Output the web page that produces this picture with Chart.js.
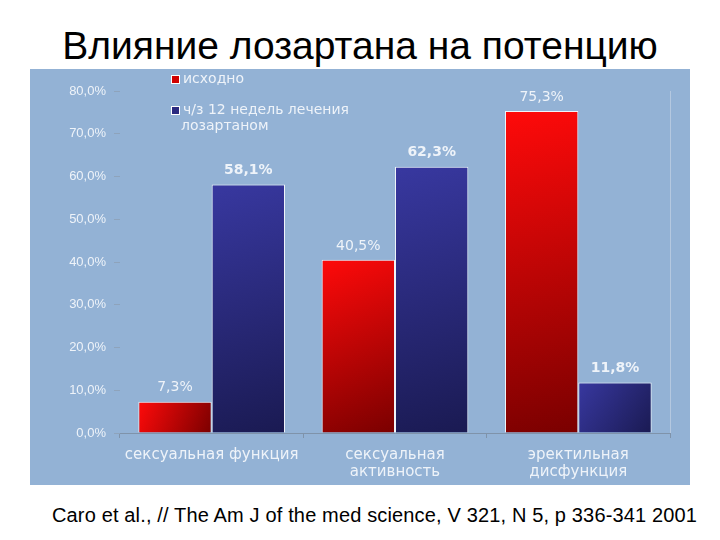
<!DOCTYPE html>
<html>
<head>
<meta charset="utf-8">
<script src="https://cdn.jsdelivr.net/npm/chart.js@4.4.0/dist/chart.umd.min.js"></script>
<style>
  body { margin: 0; background: #fff; width: 720px; height: 540px; position: relative; overflow: hidden; font-family: "Liberation Sans", Arial, sans-serif; }
  #title { position: absolute; left: 0; width: 720px; top: 23px; text-align: center; font-size: 39px; line-height: 45px; color: #000; }
  #panel { position: absolute; left: 30px; top: 69px; width: 660px; height: 416px; }
  #source { position: absolute; left: 52px; top: 504px; font-size: 20px; letter-spacing: 0.15px; line-height: 23px; color: #000; white-space: nowrap; }
</style>
</head>
<body>
<div id="title">Влияние лозартана на потенцию</div>
<div id="panel"><canvas id="myChart" width="660" height="416"></canvas></div>
<div id="source">Caro et al., // The Am J of the med science, V 321, N 5, p 336-341 2001</div>
<script>
const categories = [['сексуальная функция'], ['сексуальная', 'активность'], ['эректильная', 'дисфункция']]
const seriesNames = ['исходно', 'ч/з 12 недель лечения лозартаном']
const baseline = [7.3, 40.5, 75.3]
const after12weeks = [58.1, 62.3, 11.8]
const yTicks = [0, 10, 20, 30, 40, 50, 60, 70, 80]

const panelColor = '#93b2d5'
const textColor = '#eef3f9'
const wideFont = '"DejaVu Sans", Verdana, sans-serif'

function fmt(v) {
    return v.toFixed(1).replace('.', ',') + '%'
}

// diagonal gradient per bar, computed from the scales
function barGradient(ctx, light, dark, side) {
    const chart = ctx.chart
    const x = chart.scales.x
    const y = chart.scales.y
    if (!chart.chartArea || !x || !y) return light
    const center = x.getPixelForValue(ctx.dataIndex)
    const barW = (x.width / categories.length) * 0.8 / 2
    const left = side == 0 ? center - barW : center
    const right = left + barW
    const value = ctx.dataset.data[ctx.dataIndex]
    const top = y.getPixelForValue(value)
    const bottom = y.getPixelForValue(0)
    const g = chart.ctx.createLinearGradient(left, top, right, bottom)
    g.addColorStop(0, light)
    g.addColorStop(1, dark)
    return g
}

const panelBg = {
    id: 'panelBg',
    beforeDraw(chart) {
        const c = chart.ctx
        c.save()
        c.fillStyle = panelColor
        c.fillRect(0, 0, chart.width, chart.height)
        // right edge line of the plot
        const a = chart.chartArea
        c.strokeStyle = '#b4c8e0'
        c.lineWidth = 1
        c.beginPath()
        c.moveTo(a.right + 0.5, a.top)
        c.lineTo(a.right + 0.5, a.bottom)
        c.stroke()
        c.restore()
    }
}

const valueLabels = {
    id: 'valueLabels',
    afterDatasetsDraw(chart) {
        const c = chart.ctx
        c.save()
        c.textAlign = 'center'
        c.textBaseline = 'middle'
        c.fillStyle = textColor
        chart.data.datasets.forEach((ds, i) => {
            const meta = chart.getDatasetMeta(i)
            c.font = (i == 1 ? 'bold ' : '') + '14px ' + wideFont
            meta.data.forEach((bar, j) => {
                c.fillText(fmt(ds.data[j]), bar.x, bar.y - 14)
            })
        })
        c.restore()
    }
}

const customLegend = {
    id: 'customLegend',
    afterDraw(chart) {
        const c = chart.ctx
        c.save()
        c.font = '14px ' + wideFont
        c.textBaseline = 'middle'
        c.fillStyle = '#d00000'
        c.fillRect(142, 7, 7, 7)
        c.strokeStyle = '#ffffff'
        c.strokeRect(141.5, 6.5, 8, 8)
        c.fillStyle = '#2a2a80'
        c.fillRect(142, 38, 7, 7)
        c.strokeRect(141.5, 37.5, 8, 8)
        c.fillStyle = textColor
        c.fillText(seriesNames[0], 153, 10)
        c.fillText('ч/з 12 недель лечения', 153, 41)
        c.fillText('лозартаном', 151, 57)
        c.restore()
    }
}

const ctx = document.getElementById('myChart').getContext('2d')
const myChart = new Chart(ctx, {
    type: 'bar',
    data: {
        labels: categories,
        datasets: [{
            label: seriesNames[0],
            data: baseline,
            backgroundColor: c => barGradient(c, '#ff0a0a', '#7a0000', 0),
            borderColor: 'rgba(255,255,255,0.85)',
            borderWidth: 1,
            categoryPercentage: 0.8,
            barPercentage: 1.0
        }, {
            label: seriesNames[1],
            data: after12weeks,
            backgroundColor: c => barGradient(c, '#3838a0', '#1a1a52', 1),
            borderColor: 'rgba(255,255,255,0.85)',
            borderWidth: 1,
            categoryPercentage: 0.8,
            barPercentage: 1.0
        }]
    },
    options: {
        responsive: false,
        animation: false,
        layout: { padding: { top: 22, right: 20, left: 0, bottom: 0 } },
        plugins: {
            legend: { display: false },
            tooltip: { enabled: false }
        },
        scales: {
            x: {
                grid: { display: true, drawOnChartArea: false, offset: true, color: '#7f93aa', tickLength: 5 },
                border: { display: true, color: '#7f93aa' },
                ticks: {
                    color: textColor,
                    font: { size: 15, family: wideFont, lineHeight: 1.1 },
                    padding: 9,
                    maxRotation: 0
                },
                afterFit(scale) { scale.height = 52 }
            },
            y: {
                min: 0,
                max: 80,
                afterBuildTicks(scale) { scale.ticks = yTicks.map(v => ({ value: v })) },
                grid: { display: true, drawOnChartArea: false, color: '#8ea3bb', tickLength: 6 },
                border: { display: false },
                ticks: {
                    color: textColor,
                    font: { size: 13, family: '"Liberation Sans", Arial, sans-serif' },
                    padding: 8,
                    callback: v => fmt(v)
                },
                afterFit(scale) { scale.width = 90 }
            }
        }
    },
    plugins: [panelBg, valueLabels, customLegend]
})
</script>
</body>
</html>
